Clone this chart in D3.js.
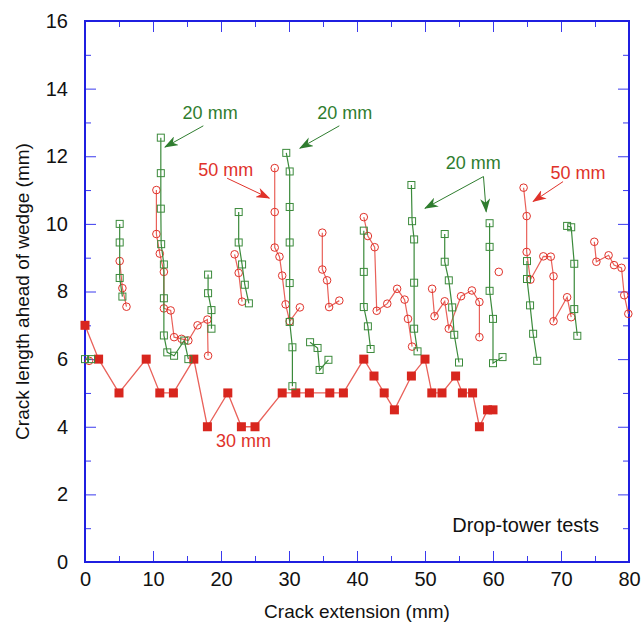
<!DOCTYPE html>
<html>
<head>
<meta charset="utf-8">
<script src="https://cdn.jsdelivr.net/npm/d3@7"></script>
<style>
  body { margin: 0; background: #fff; }
  svg text { font-family: "Liberation Sans", Arial, Helvetica, sans-serif; }
  .axis path { display: none; }
  .axis line { stroke: #3a3aee; stroke-width: 1; }
  .axis text { font-size: 20px; fill: #111; }
</style>
</head>
<body>
<div class="render"></div>
<script>
'use strict';

// 30 mm wedge : filled squares, one continuous run
var wedge30 = [[0,7],[2,6],[5,5],[9,6],[11,5],[13,5],[16,6],[18,4],[21,5],[23,4],[25,4],
  [29,5],[31,5],[33,5],[36,5],[38,5],[41,6],[42.5,5.5],[44,5],[45.5,4.5],[48,5.5],[50,6],
  [51,5],[52.5,5],[54.5,5.5],[55.5,5],[57,5],[58,4],[59.2,4.5],[60,4.5]];

// 20 mm wedge : open squares, each test is its own run
var wedge20 = [
  [[0,6],[0.9,6]],
  [[5.1,10],[5.1,9.45],[5.1,8.4],[5.5,7.85]],
  [[11.15,12.55],[11.15,11.5],[11.15,10.45],[11.2,9.4],[11.6,8.8],[11.6,7.8],[11.6,6.7],[12.1,6.2],[13.1,6.1],[14.6,6.55],[15.2,6.0]],
  [[18.1,8.5],[18.1,7.95],[18.6,7.45],[18.6,6.9]],
  [[22.6,10.35],[22.6,9.45],[23.1,8.8],[23.5,8.2],[24.1,7.65]],
  [[29.6,12.1],[30.1,11.55],[30.1,10.5],[30.1,9.45],[30.1,8.25],[30.1,7.1],[30.5,6.35],[30.5,5.2]],
  [[33.1,6.5],[34.2,6.33],[34.5,5.68],[35.8,5.98]],
  [[41,9.8],[41,8.58],[41,7.54],[41.6,6.97],[42,6.3]],
  [[48,11.15],[48.1,10.08],[48.4,9.54],[48.4,8.26],[48.4,6.9],[48.9,6.23]],
  [[52.9,9.7],[52.9,8.88],[53.5,8.33],[54,7.53],[54.3,6.72],[55,5.9]],
  [[59.5,10.02],[59.5,9.32],[59.5,8.02],[60,7.19],[60,5.88],[61.4,6.06]],
  [[65,8.9],[65,8.37],[65.45,7.59],[65.9,6.75],[66.5,5.95]],
  [[70.9,9.94],[71.5,9.9],[71.95,8.82],[71.95,7.48],[72.4,6.69]]
];

// 50 mm wedge : open circles
var wedge50 = [
  [[0.6,5.95]],
  [[5.1,8.9],[5.5,8.1],[6.1,7.55]],
  [[10.5,11],[10.5,9.7],[11,9.12],[11.6,8.58],[11.6,7.5],[12.6,7.44],[13.1,6.65],[14.2,6.6],[15.2,6.55],[16.55,7.0],[18,7.17],[18.1,6.1]],
  [[22,9.1],[22.6,8.55],[23.1,7.7]],
  [[27.9,11.65],[27.9,10.35],[27.9,9.3],[28.6,9.03],[29,8.47],[29.5,7.62],[30.1,7.12],[31.6,7.53]],
  [[34.9,9.74],[34.9,8.65],[35.6,8.33],[35.9,7.54],[37.4,7.73]],
  [[41,10.2],[41.6,9.64],[42.6,9.31],[42.9,7.43],[44.45,7.64],[45.9,8.08],[47,7.76],[47.5,7.19],[48.1,6.37]],
  [[51.05,8.08],[51.4,7.27],[52.9,7.71],[53.5,6.9],[55.3,7.86],[56.9,8.03],[58,7.69],[58,6.65]],
  [[60.85,8.58]],
  [[64.5,11.07],[64.95,10.23],[64.95,9.17],[65.5,8.35],[67.4,9.04],[68.5,9.03],[68.9,8.45],[68.9,7.12],[70.9,7.83],[71.5,7.24]],
  [[74.9,9.47],[75.2,8.88],[77,9.07],[77.8,8.78],[78.9,8.7],[79.3,7.89],[79.9,7.34]]
];

var xTicks = [0,10,20,30,40,50,60,70,80];
var xMinor = [5,15,25,35,45,55,65,75];
var yTicks = [0,2,4,6,8,10,12,14,16];
var yMinor = [1,3,5,7,9,11,13,15];

// labels: [text, x, y] in data units
var labels = [
  ['20 mm', 18.4, 13.3, 'g'],
  ['20 mm', 38.2, 13.3, 'g'],
  ['20 mm', 57.1, 11.8, 'g'],
  ['50 mm', 20.7, 11.6, 'r'],
  ['50 mm', 72.5, 11.52, 'r'],
  ['30 mm', 23.3, 3.6, 'r']
];
// arrows: [x1, y1, x2, y2] from label towards the data
var arrows = [
  [17.4,12.9,11.76,12.27,'g'],
  [37.4,12.9,31.6,12.24,'g'],
  [58.6,11.4,50,10.46,'g'],
  [58.6,11.4,59,10.36,'g'],
  [20.9,11.35,27.1,10.76,'r'],
  [70.3,11.25,65.9,10.66,'r']
];

var green = '#3b8a3b';
var red = '#e0322a';
var blue = '#1f1fe0';
var col = { g: '#2f7d2f', r: red };

var w = 642, h = 631;
var pLeft = 85, pRight = 629, pTop = 21, pBottom = 562;

var x = d3.scaleLinear().domain([0, 80]).range([pLeft, pRight]);
var y = d3.scaleLinear().domain([0, 16]).range([pBottom, pTop]);

var svg = d3.select('.render').append('svg').attr('width', w).attr('height', h);

// ticks inward on all four sides
function ticks(axisFn, scale, major, minor, tr, pad, showText) {
  var g1 = svg.append('g').attr('class', 'axis').attr('transform', tr)
    .call(axisFn(scale).tickValues(major).tickSize(-11).tickPadding(pad).tickFormat(d3.format('d')));
  if (!showText) g1.selectAll('text').remove();
  svg.append('g').attr('class', 'axis').attr('transform', tr)
    .call(axisFn(scale).tickValues(minor).tickSize(-6).tickFormat(''));
}
ticks(d3.axisBottom, x, xTicks, xMinor, 'translate(0,' + pBottom + ')', 10, true);
ticks(d3.axisTop, x, xTicks, xMinor, 'translate(0,' + pTop + ')', 0, false);
ticks(d3.axisLeft, y, yTicks, yMinor, 'translate(' + pLeft + ',0)', 17, true);
ticks(d3.axisRight, y, yTicks, yMinor, 'translate(' + pRight + ',0)', 0, false);

svg.append('rect').attr('x', pLeft).attr('y', pTop).attr('width', pRight - pLeft).attr('height', pBottom - pTop)
  .attr('fill', 'none').attr('stroke', blue).attr('stroke-width', 2);

var line = d3.line().x(function (d) { return x(d[0]); }).y(function (d) { return y(d[1]); });

// 30 mm
svg.append('path').datum(wedge30).attr('d', line).attr('fill', 'none').attr('stroke', '#e9615a').attr('stroke-width', 1.3);
svg.selectAll('.sq30').data(wedge30).enter().append('rect').attr('class', 'sq30')
  .attr('x', function (d) { return x(d[0]) - 4.5; }).attr('y', function (d) { return y(d[1]) - 4.5; })
  .attr('width', 9).attr('height', 9).attr('fill', '#d8261e');

// 50 mm
wedge50.forEach(function (seg) {
  svg.append('path').datum(seg).attr('d', line).attr('fill', 'none').attr('stroke', '#e9615a').attr('stroke-width', 1.2);
  svg.selectAll(null).data(seg).enter().append('circle')
    .attr('cx', function (d) { return x(d[0]); }).attr('cy', function (d) { return y(d[1]); })
    .attr('r', 3.8).attr('fill', 'none').attr('stroke', red).attr('stroke-width', 1);
});

// 20 mm
wedge20.forEach(function (seg) {
  svg.append('path').datum(seg).attr('d', line).attr('fill', 'none').attr('stroke', green).attr('stroke-width', 1.2);
  svg.selectAll(null).data(seg).enter().append('rect')
    .attr('x', function (d) { return x(d[0]) - 3.5; }).attr('y', function (d) { return y(d[1]) - 3.5; })
    .attr('width', 7).attr('height', 7).attr('fill', 'none').attr('stroke', green).attr('stroke-width', 1);
});

// arrow heads
['g', 'r'].forEach(function (k) {
  svg.append('defs').append('marker').attr('id', 'ah' + k).attr('viewBox', '0 0 14 10')
    .attr('refX', 13).attr('refY', 5).attr('markerWidth', 14).attr('markerHeight', 10)
    .attr('markerUnits', 'userSpaceOnUse').attr('orient', 'auto')
    .append('path').attr('d', 'M0,0 L14,5 L0,10 L4,5 Z').attr('fill', col[k]);
});
svg.selectAll('.arr').data(arrows).enter().append('line').attr('class', 'arr')
  .attr('x1', function (d) { return x(d[0]); }).attr('y1', function (d) { return y(d[1]); })
  .attr('x2', function (d) { return x(d[2]); }).attr('y2', function (d) { return y(d[3]); })
  .attr('stroke', function (d) { return col[d[4]]; }).attr('stroke-width', 1)
  .attr('marker-end', function (d) { return 'url(#ah' + d[4] + ')'; });

svg.selectAll('.lab').data(labels).enter().append('text').attr('class', 'lab')
  .attr('x', function (d) { return x(d[1]); }).attr('y', function (d) { return y(d[2]); })
  .attr('text-anchor', 'middle').attr('dy', '0.35em')
  .style('font-size', '18px').style('fill', function (d) { return col[d[3]]; })
  .text(function (d) { return d[0]; });

svg.append('text').text('Drop-tower tests').attr('x', x(54)).attr('y', y(1.1)).attr('dy', '0.35em')
  .style('font-size', '20px').style('fill', '#111');

svg.append('text').text('Crack extension (mm)').attr('x', (pLeft + pRight) / 2).attr('y', 618)
  .attr('text-anchor', 'middle').style('font-size', '19px').style('fill', '#111');
svg.append('text').text('Crack length ahead of wedge (mm)')
  .attr('transform', 'translate(29,' + (pTop + pBottom) / 2 + ')rotate(-90)')
  .attr('text-anchor', 'middle').style('font-size', '19px').style('fill', '#111');
</script>
</body>
</html>
